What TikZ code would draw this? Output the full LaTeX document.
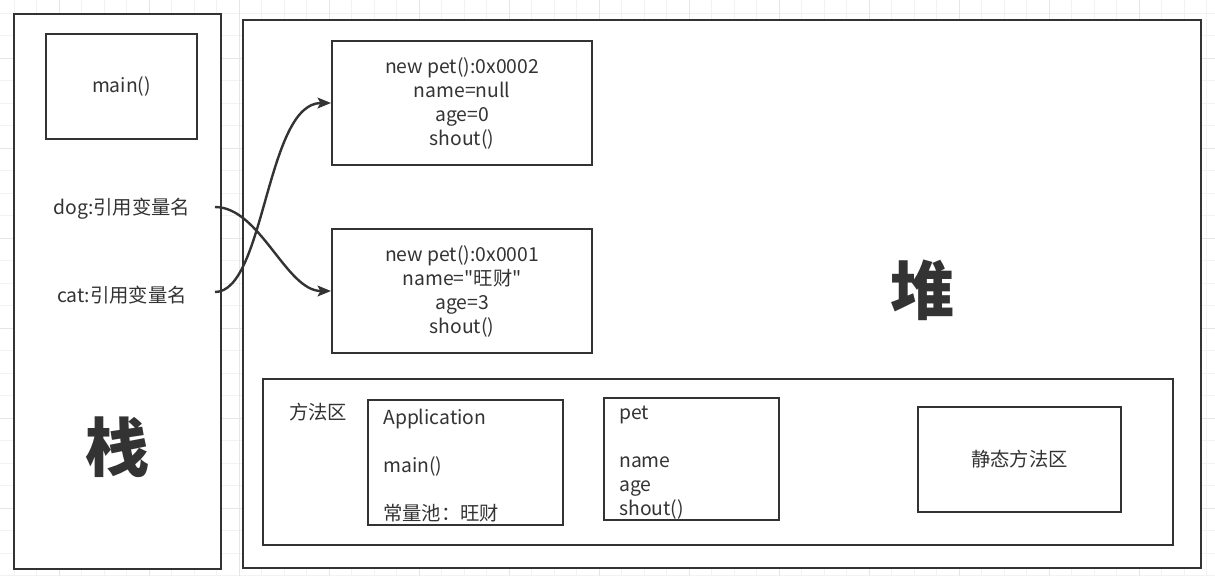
\documentclass[tikz,border=0pt]{standalone}
\usepackage{fontspec}
\setmainfont{Noto Sans CJK SC}
\usetikzlibrary{arrows.meta}
\definecolor{edge}{HTML}{333333}
\definecolor{gridminor}{HTML}{F2F2F2}
\definecolor{gridmajor}{HTML}{E6E6E6}

\begin{document}
\begin{tikzpicture}[
        x=0.75pt, y=-0.75pt,
        frame/.style={rectangle, draw=edge, fill=white, line width=1.5pt, inner sep=0pt},
        box/.style={frame, align=center, text=edge, font=\fontsize{14.5}{18}\selectfont},
        lbl/.style={inner sep=0pt, text=edge, font=\fontsize{14.5}{18}\selectfont},
        list/.style={lbl, align=left, anchor=west},
        big/.style={inner sep=0pt, text=edge, font=\fontsize{48}{50}\selectfont\bfseries},
        arrow/.style={draw=edge, line width=1.8pt, -{Stealth[length=10pt, width=8pt, inset=2pt]}}
    ]
        \useasboundingbox (0,0) rectangle (1215,576);
        % Grid
        \foreach \gx in {0,...,53} \draw[gridminor, line width=0.75pt] ({14.3+22.5*\gx},0) -- ++(0,576);
        \foreach \gy in {0,...,25} \draw[gridminor, line width=0.75pt] (0,{13+22.5*\gy}) -- ++(1215,0);
        \foreach \gx in {0,...,13} \draw[gridmajor, line width=0.75pt] ({59.3+90*\gx},0) -- ++(0,576);
        \foreach \gy in {0,...,6} \draw[gridmajor, line width=0.75pt] (0,{58+90*\gy}) -- ++(1215,0);

        % Stack
        \node (stack) [frame, minimum width=155.25pt, minimum height=416.25pt] at (117.5,291.5) {};
        \node (main) [box, minimum width=113.25pt, minimum height=78.75pt] at (121.5,86.5) {main()};
        \node (dog) [lbl] at (122,209) {dog:引用变量名};
        \node (cat) [lbl] at (122,295) {cat:引用变量名};
        \node (stacktitle) [big] at (117,447) {栈};

        % Heap
        \node (heap) [frame, minimum width=718.5pt, minimum height=411pt] at (722,294) {};
        \node (obj1) [box, minimum width=195pt, minimum height=93pt] at (462,103)
            {new pet():0x0002\\name=null\\age=0\\shout()};
        \node (obj2) [box, minimum width=195pt, minimum height=93pt] at (462,291)
            {new pet():0x0001\\name=\textquotedbl 旺财\textquotedbl\\age=3\\shout()};
        \node (heaptitle) [big] at (922,290) {堆};

        % Method area
        \node (method) [frame, minimum width=682.5pt, minimum height=124.5pt] at (718,462) {};
        \node (methodtitle) [lbl] at (318,412) {方法区};
        \node (app) [frame, minimum width=146.25pt, minimum height=93.75pt] at (465.5,462.5) {};
        \node (apptext) [list] at (383,466) {Application\\ \\main()\\ \\常量池：旺财};
        \node (pet) [frame, minimum width=131.25pt, minimum height=91.5pt] at (691.5,459) {};
        \node (pettext) [list] at (619,463) {pet\\ \\name\\age\\shout()};
        \node (static) [box, minimum width=152.25pt, minimum height=78.75pt] at (1019.5,459.5) {静态方法区};

        % References
        \coordinate (dogout) at (215,207);
        \coordinate (catout) at (215,292);
        \draw [arrow] (dogout) .. controls +(45,0) and +(-45,0) .. (obj2.west);
        \draw [arrow] (catout) .. controls +(50,0) and +(-65,0) .. (obj1.west);
    \end{tikzpicture}
\end{document}
